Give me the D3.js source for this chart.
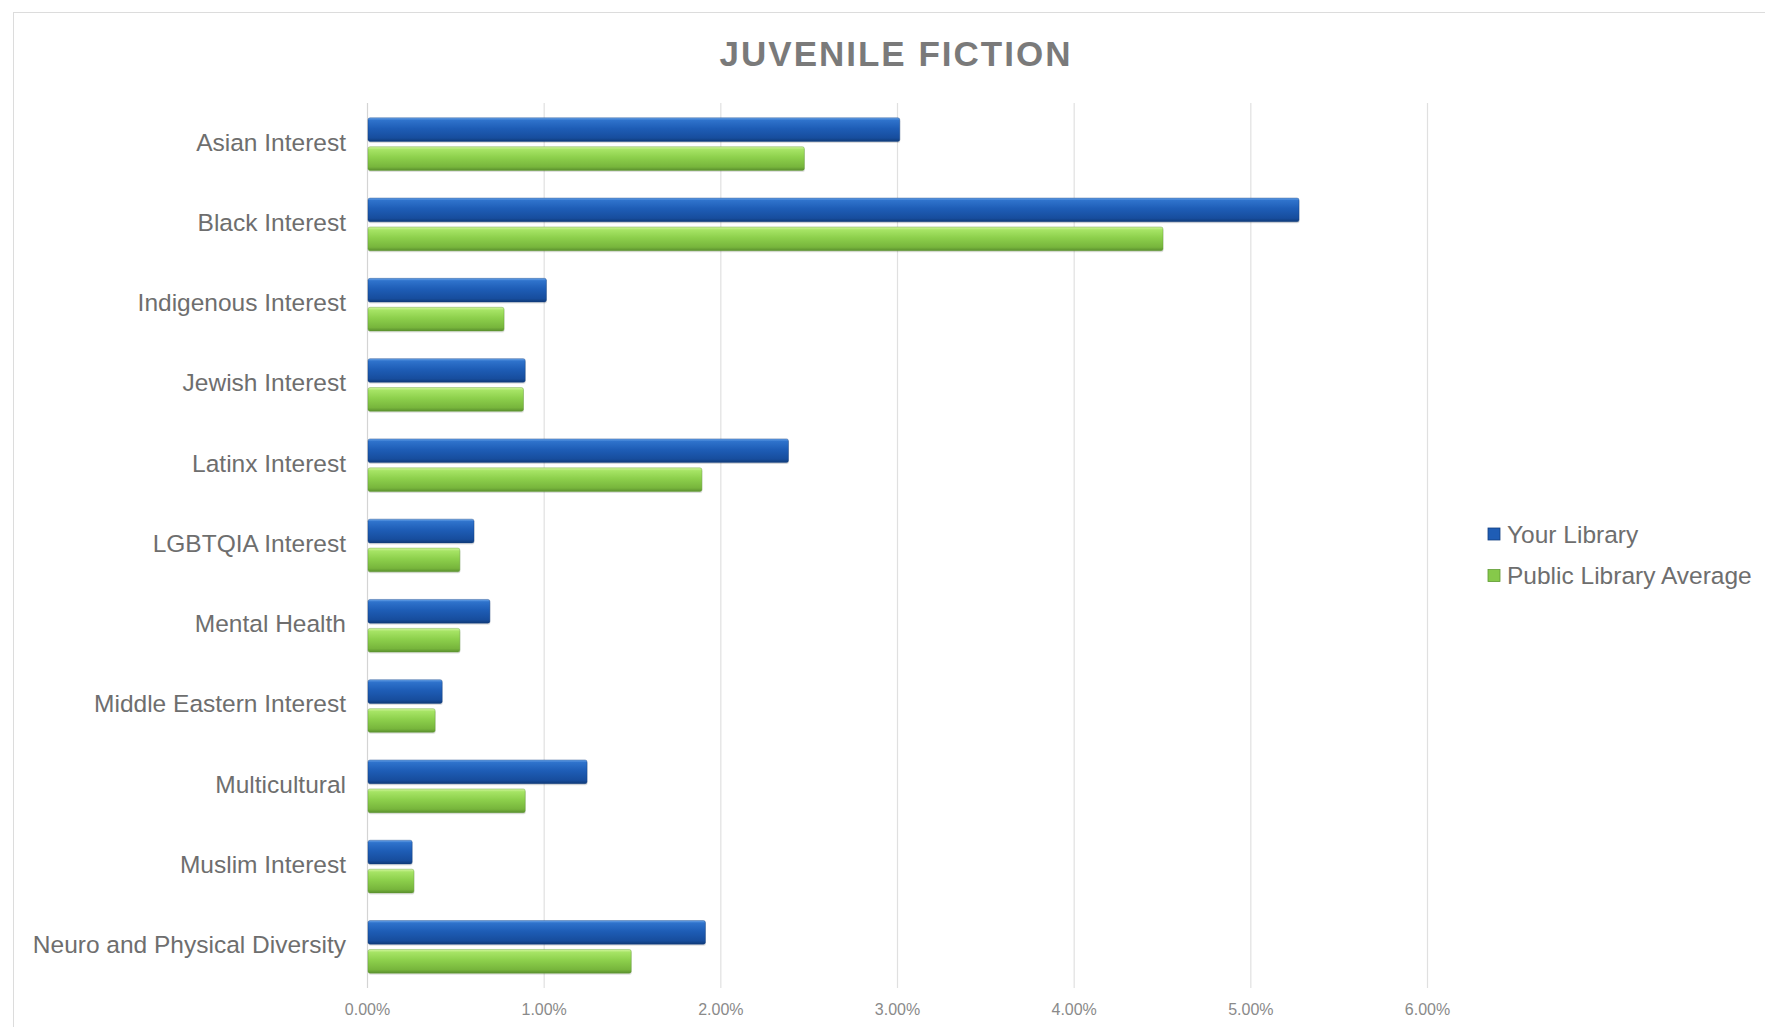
<!DOCTYPE html>
<html>
<head>
<meta charset="utf-8">
<script src="https://cdn.jsdelivr.net/npm/d3@7"></script>
<style>
  html, body { margin: 0; padding: 0; background: #ffffff; }
  svg { display: block; font-family: "Liberation Sans", Arial, sans-serif; }
</style>
</head>
<body>
<svg id="chart" width="1765" height="1027"></svg>
<script>
// ---- Data ----
const categories = [
  "Asian Interest",
  "Black Interest",
  "Indigenous Interest",
  "Jewish Interest",
  "Latinx Interest",
  "LGBTQIA Interest",
  "Mental Health",
  "Middle Eastern Interest",
  "Multicultural",
  "Muslim Interest",
  "Neuro and Physical Diversity"
];
const seriesNames = ["Your Library", "Public Library Average"];
const yourLibrary = [0.0301, 0.0527, 0.0101, 0.0089, 0.0238, 0.0060, 0.0069, 0.0042, 0.0124, 0.0025, 0.0191];
const publicAverage = [0.0247, 0.0450, 0.0077, 0.0088, 0.0189, 0.0052, 0.0052, 0.0038, 0.0089, 0.0026, 0.0149];
const tickValues = [0, 0.01, 0.02, 0.03, 0.04, 0.05, 0.06];
const title = "JUVENILE FICTION";

// ---- Setup ----
const svg = d3.select("#chart");

const defs = svg.append("defs");
const blueGrad = defs.append("linearGradient").attr("id", "gBlue")
  .attr("x1", 0).attr("y1", 0).attr("x2", 0).attr("y2", 1);
[["0%", "#6ea8ec"], ["10%", "#2f73cc"], ["45%", "#1e5db6"], ["85%", "#174d9d"], ["100%", "#0f3a78"]]
  .forEach(([o, c]) => blueGrad.append("stop").attr("offset", o).attr("stop-color", c));
const greenGrad = defs.append("linearGradient").attr("id", "gGreen")
  .attr("x1", 0).attr("y1", 0).attr("x2", 0).attr("y2", 1);
[["0%", "#d3f5a0"], ["12%", "#a6e465"], ["45%", "#8dd04c"], ["85%", "#77b53c"], ["100%", "#5a8f2e"]]
  .forEach(([o, c]) => greenGrad.append("stop").attr("offset", o).attr("stop-color", c));
const fills = ["url(#gBlue)", "url(#gGreen)"];
const legendFills = ["#1f5db5", "#86c94a"];

// chart frame
svg.append("rect")
  .attr("x", 13.5).attr("y", 12.5)
  .attr("width", 1800).attr("height", 1100)
  .attr("fill", "#ffffff")
  .attr("stroke", "#dcdcdc").attr("stroke-width", 1);

// ---- Scales ----
const x = d3.scaleLinear().domain([0, 0.06]).range([367, 1427]);
const y = d3.scaleBand().domain(categories).range([104, 987]).paddingInner(0.344).paddingOuter(0.172);
const ySub = d3.scaleBand().domain(seriesNames).range([0, y.bandwidth()]).paddingInner(0.18);

// gridlines
svg.append("g").selectAll("line")
  .data(tickValues)
  .join("line")
  .attr("x1", d => x(d) + 0.5).attr("x2", d => x(d) + 0.5)
  .attr("y1", 103).attr("y2", 988)
  .attr("stroke", d => d === 0 ? "#d4d4d4" : "#e0e0e0")
  .attr("stroke-width", 1.2);

// x axis tick labels
const xAxis = d3.axisBottom(x).tickValues(tickValues).tickFormat(d3.format(".2%")).tickSize(0).tickPadding(0);
const gx = svg.append("g").attr("transform", "translate(0,1003)").call(xAxis);
gx.select(".domain").remove();
gx.selectAll("text")
  .attr("fill", "#8a8a8a")
  .attr("font-size", "16px")
  .attr("dy", "0.72em")
  .style("font-family", "'Liberation Sans', Arial, sans-serif");

// y axis labels
const yAxis = d3.axisLeft(y).tickSize(0).tickPadding(0);
const gy = svg.append("g").attr("transform", "translate(346,0)").call(yAxis);
gy.select(".domain").remove();
gy.selectAll("text")
  .attr("fill", "#6e6e6e")
  .attr("font-size", "24.5px")
  .attr("dy", "0.26em")
  .style("font-family", "'Liberation Sans', Arial, sans-serif");

// bars
const rows = categories.map((c, i) => ({ cat: c, vals: [yourLibrary[i], publicAverage[i]] }));
const groups = svg.append("g").selectAll("g")
  .data(rows)
  .join("g")
  .attr("transform", d => `translate(0,${y(d.cat)})`);

groups.selectAll("rect.shadow")
  .data(d => d.vals.map((v, k) => ({ v, k })))
  .join("rect")
  .attr("class", "shadow")
  .attr("x", x(0) + 1.5)
  .attr("y", d => ySub(seriesNames[d.k]) + 1.5)
  .attr("width", d => x(d.v) - x(0))
  .attr("height", ySub.bandwidth())
  .attr("rx", 2)
  .attr("fill", "rgba(0,0,0,0.12)");

groups.selectAll("rect.bar")
  .data(d => d.vals.map((v, k) => ({ v, k })))
  .join("rect")
  .attr("class", "bar")
  .attr("x", x(0) + 1)
  .attr("y", d => ySub(seriesNames[d.k]))
  .attr("width", d => x(d.v) - x(0))
  .attr("height", ySub.bandwidth())
  .attr("rx", 2)
  .attr("fill", d => fills[d.k])
  .attr("stroke", d => d.k === 0 ? "#123f80" : "#5f9a33")
  .attr("stroke-opacity", 0.5)
  .attr("stroke-width", 0.8);

// title
svg.append("text")
  .attr("x", 896).attr("y", 53)
  .attr("text-anchor", "middle")
  .attr("dominant-baseline", "central")
  .attr("font-size", "35px")
  .attr("font-weight", "bold")
  .attr("letter-spacing", "2px")
  .attr("fill", "#7a7a7a")
  .text(title);

// legend
const legend = svg.append("g").selectAll("g")
  .data(seriesNames)
  .join("g")
  .attr("transform", (d, i) => `translate(1488,${534 + i * 41.6})`);
legend.append("rect")
  .attr("x", 0).attr("y", -6)
  .attr("width", 12).attr("height", 12)
  .attr("fill", (d, i) => legendFills[i])
  .attr("stroke", (d, i) => i === 0 ? "#123f80" : "#5f9a33")
  .attr("stroke-width", 0.8);
legend.append("text")
  .attr("x", 19).attr("y", 0)
  .attr("dominant-baseline", "central")
  .attr("font-size", "24.5px")
  .attr("fill", "#6e6e6e")
  .text(d => d);
</script>
</body>
</html>
